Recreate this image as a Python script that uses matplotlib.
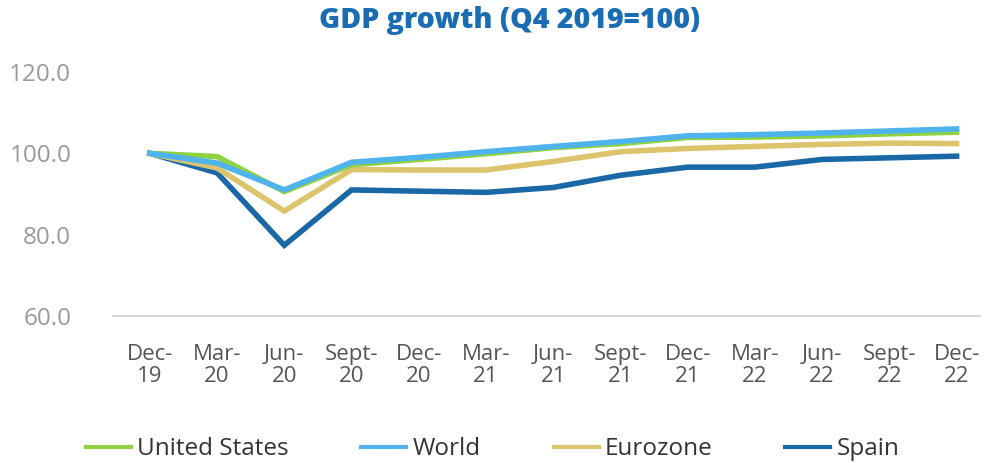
import matplotlib.pyplot as plt
from matplotlib.lines import Line2D

plt.rcParams['font.family'] = ['Open Sans', 'DejaVu Sans']

# Quarters (Q4 2019 = 100)
quarters = ['Dec-\n19', 'Mar-\n20', 'Jun-\n20', 'Sept-\n20', 'Dec-\n20', 'Mar-\n21', 'Jun-\n21',
            'Sept-\n21', 'Dec-\n21', 'Mar-\n22', 'Jun-\n22', 'Sept-\n22', 'Dec-\n22']

united_states = [100.0, 99.2, 90.6, 97.2, 98.5, 99.9, 101.4, 102.4, 103.9, 104.0, 104.3, 104.8, 105.2]
world = [100.0, 97.6, 91.0, 97.8, 99.0, 100.4, 101.7, 102.9, 104.3, 104.6, 105.0, 105.5, 106.0]
eurozone = [100.0, 96.4, 85.8, 96.0, 95.9, 95.9, 98.0, 100.4, 101.2, 101.7, 102.2, 102.5, 102.4]
spain = [100.0, 95.2, 77.4, 91.0, 90.7, 90.4, 91.6, 94.6, 96.6, 96.6, 98.5, 98.9, 99.3]

series = ['United States', 'World', 'Eurozone', 'Spain']
colors = ['#8fd140', '#4fb4ee', '#dcc46c', '#1a68a5']

fig = plt.figure(figsize=(9.9, 4.63), dpi=100)
ax = fig.add_axes([0.114, 0.3175, 0.876, 0.527])

x = list(range(len(quarters)))
# draw in this order so the world line sits on top of US, Spain below
for data, color in [(spain, colors[3]), (eurozone, colors[2]), (united_states, colors[0]), (world, colors[1])]:
    ax.plot(x, data, color=color, linewidth=4, solid_joinstyle='miter')

ax.set_ylim(60, 120)
ax.set_xlim(-0.55, 12.35)
ax.set_yticks([60, 80, 100, 120])
ax.set_yticklabels(['60.0', '80.0', '100.0', '120.0'])
ax.set_xticks(x)
ax.set_xticklabels(quarters, linespacing=1.1)

for side in ['top', 'right', 'left']:
    ax.spines[side].set_visible(False)
ax.spines['bottom'].set_color('#d0d0d0')
ax.spines['bottom'].set_linewidth(1.2)
ax.tick_params(axis='both', length=0)
ax.tick_params(axis='y', labelsize=17.5, labelcolor='#9a9a9a', pad=30)
ax.tick_params(axis='x', labelsize=16, labelcolor='#555555', pad=20)

fig.text(0.515, 0.955, 'GDP growth (Q4 2019=100)', ha='center', va='center',
         fontsize=20.5, fontweight='heavy', color='#1a6db3')

handles = [Line2D([], [], color=c, linewidth=3) for c in colors]
fig.legend(handles, series, loc='center', bbox_to_anchor=(0.4975, 0.03), ncol=4,
           frameon=False, fontsize=17.5, handlelength=1.85, handletextpad=0.25,
           columnspacing=3.0, labelcolor='#333333')

fig.savefig('out.png', dpi=100)
